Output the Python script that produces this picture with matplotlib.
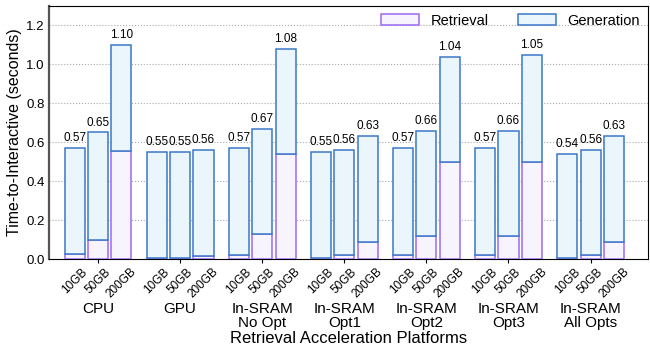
import matplotlib.pyplot as plt
import numpy as np

plt.rcParams['font.family'] = ['Liberation Sans', 'DejaVu Sans']

# data
platforms = ['CPU', 'GPU', 'In-SRAM\nNo Opt', 'In-SRAM\nOpt1', 'In-SRAM\nOpt2',
             'In-SRAM\nOpt3', 'In-SRAM\nAll Opts']
sizes = ['10GB', '50GB', '200GB']

# total time-to-interactive (labels above bars), per platform x size
total = np.array([
    [0.57, 0.65, 1.10],
    [0.55, 0.55, 0.56],
    [0.57, 0.67, 1.08],
    [0.55, 0.56, 0.63],
    [0.57, 0.66, 1.04],
    [0.57, 0.66, 1.05],
    [0.54, 0.56, 0.63],
])
# retrieval part (bottom of each bar)
retrieval = np.array([
    [0.025, 0.100, 0.555],
    [0.003, 0.005, 0.017],
    [0.020, 0.130, 0.540],
    [0.003, 0.018, 0.085],
    [0.020, 0.120, 0.498],
    [0.020, 0.120, 0.500],
    [0.003, 0.018, 0.085],
])
generation = total - retrieval

fig, ax = plt.subplots(figsize=(6.5, 3.5), dpi=100)
plt.subplots_adjust(left=0.075, right=0.997, top=0.983, bottom=0.26)

x = np.arange(len(platforms))
w = 0.245
off = 0.285

ret_face, ret_edge = '#f8f4fe', '#9a6af5'
gen_face, gen_edge = '#eaf5fc', '#3b78c8'

minor_pos, minor_lab = [], []
for j, s in enumerate(sizes):
    xs = x + (j - 1) * off
    ax.bar(xs, retrieval[:, j], w, color=ret_face, edgecolor=ret_edge, linewidth=1.1,
           label='Retrieval' if j == 0 else None, zorder=3)
    ax.bar(xs, generation[:, j], w, bottom=retrieval[:, j], color=gen_face,
           edgecolor=gen_edge, linewidth=1.1, label='Generation' if j == 0 else None, zorder=3)
    for xi, t in zip(xs, total[:, j]):
        ax.text(xi, t + 0.02, f'{t:.2f}', ha='center', va='bottom', fontsize=8.5)
    minor_pos += list(xs)
    minor_lab += [s] * len(x)

ax.set_xlim(-0.6, 6.7)
ax.set_ylim(0, 1.3)
ax.set_yticks(np.arange(0, 1.21, 0.2))
ax.set_yticklabels([f'{v:.1f}' for v in np.arange(0, 1.21, 0.2)])
ax.yaxis.grid(True, linestyle=':', color='#aaaaaa', linewidth=0.8, zorder=0)
ax.tick_params(axis='y', length=0, labelsize=9.5, pad=3)

ax.xaxis.remove_overlapping_locs = False
ax.set_xticks(x)
ax.set_xticklabels(platforms, fontsize=11, linespacing=1.0)
ax.tick_params(axis='x', which='major', length=3, pad=28)
ax.set_xticks(minor_pos, minor=True)
ax.set_xticklabels(minor_lab, minor=True, rotation=45, ha='center', fontsize=8.5)
ax.tick_params(axis='x', which='minor', length=0, pad=5)

ax.set_ylabel('Time-to-Interactive (seconds)', fontsize=11.5, labelpad=3)
ax.set_xlabel('Retrieval Acceleration Platforms', fontsize=12, labelpad=1)

ax.spines['left'].set_color('#555555')
ax.spines['left'].set_linewidth(1.6)

ax.legend(loc='upper right', ncol=2, frameon=False, fontsize=10.5,
          handlelength=2.6, handleheight=0.8, columnspacing=2.0,
          borderaxespad=0.15)

plt.savefig('out.png', dpi=100)
